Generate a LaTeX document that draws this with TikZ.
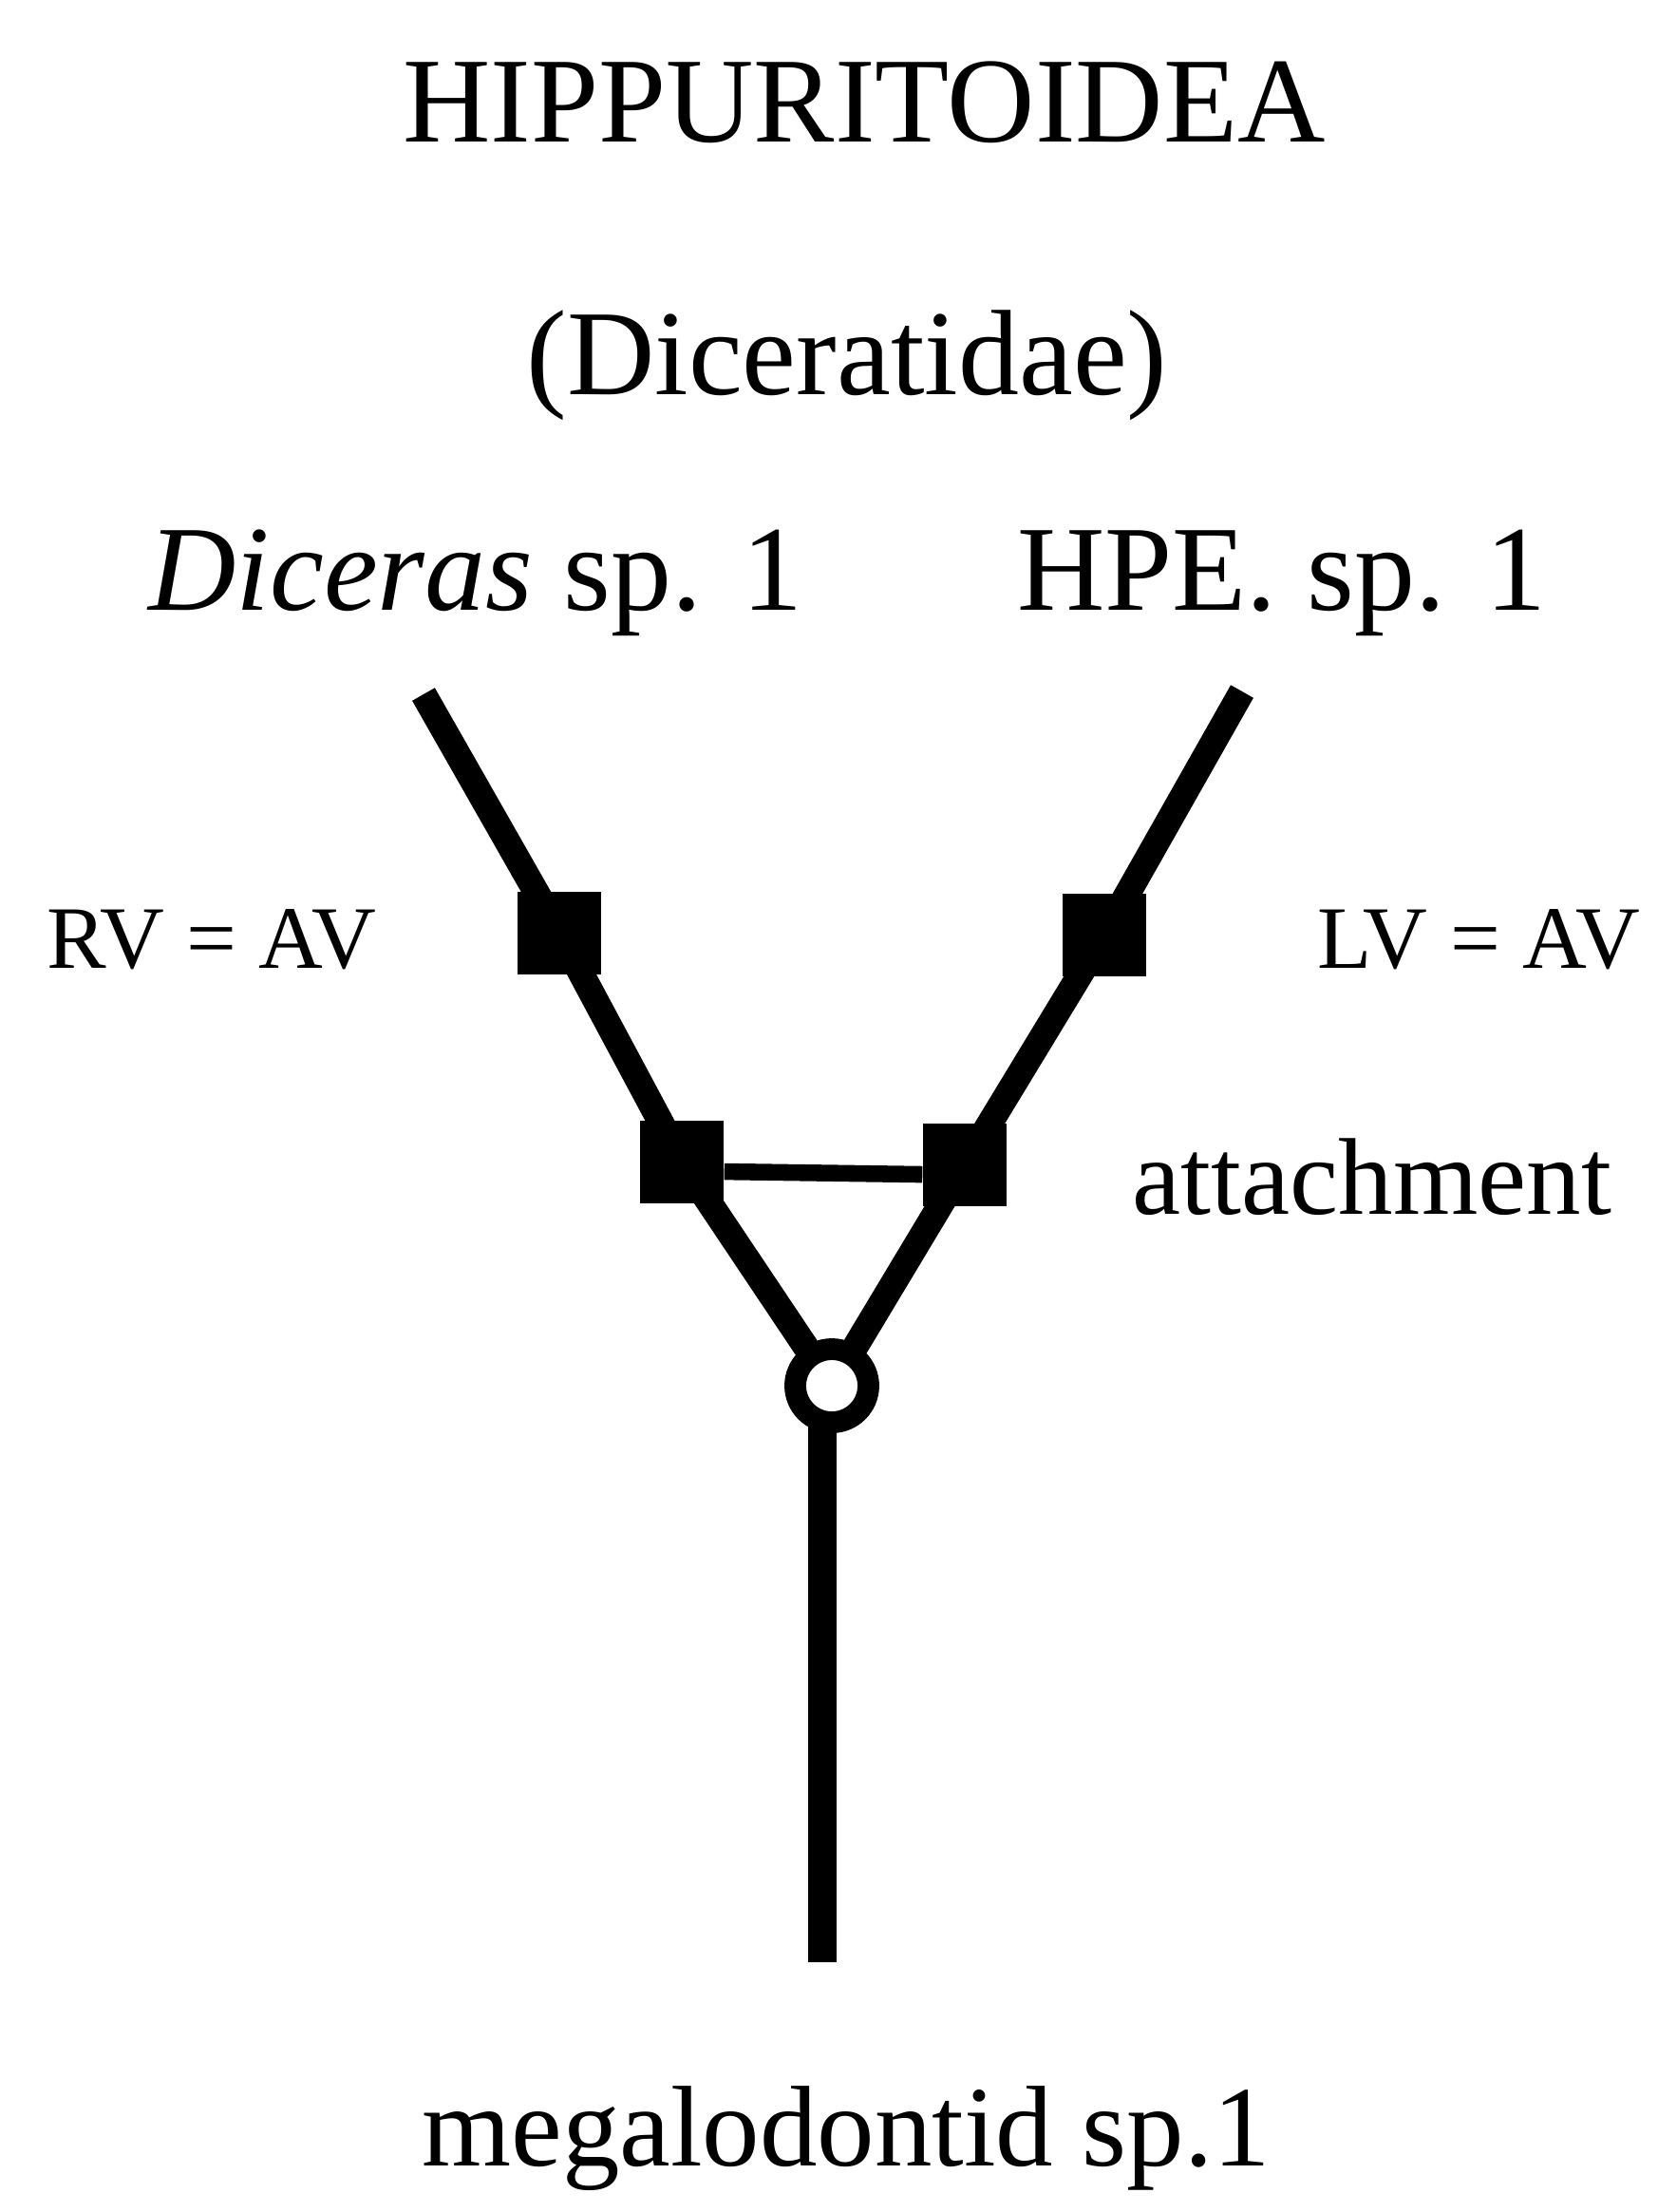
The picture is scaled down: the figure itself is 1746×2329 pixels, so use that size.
\documentclass[tikz,border=0pt]{standalone}
\usepackage{fontspec}
\setmainfont{Liberation Serif}
\usetikzlibrary{positioning}

\begin{document}
\begin{tikzpicture}[x=0.1mm,y=-0.1mm,
    branch/.style={line width=7.8pt},
    stem/.style={line width=8.5pt},
    bar/.style={line width=5pt},
    apo/.style={fill=black,inner sep=0pt,minimum width=8.8mm,minimum height=8.7mm},
    node0/.style={circle,draw,fill=white,line width=6.5pt,inner sep=0pt,minimum size=7.7mm},
    lbl/.style={anchor=base,inner sep=0pt}]
        \useasboundingbox (0,0) rectangle (1746,2329);

        \coordinate (DT) at (446,731);
        \coordinate (HT) at (1308,728);
        \coordinate (M) at (866,2066);

        \node[apo] (D1) at (589,982) {};
        \node[apo] (D2) at (718,1223) {};
        \node[apo] (H1) at (1163,984) {};
        \node[apo] (H2) at (1016,1226) {};
        \node[node0] (O) at (876,1459) {};

        \draw[branch] (DT) -- (D1.center) -- (D2.center);
        \draw[branch] (HT) -- (H1.center) -- (H2.center);
        \draw[branch,line cap=round] (D2.center) -- (O);
        \draw[branch,line cap=round] (H2.center) -- (O);
        \draw[bar] ([yshift=-3pt]D2.east) -- ([yshift=-3pt]H2.west);
        \draw[stem] ([yshift=4pt]O.south -| M) -- (M);

        %
        \node[lbl,font=\fontsize{36.4}{40}\selectfont] (title) at (910,149) {HIPPURITOIDEA};
        \node[lbl,font=\fontsize{36.4}{40}\selectfont] (fam) at (892,415) {(Diceratidae)};
        \node[lbl,font=\fontsize{36.4}{40}\selectfont] (dic) at (501,642) {\textit{Diceras} sp. 1};
        \node[lbl,font=\fontsize{36.4}{40}\selectfont] (hpe) at (1350,642) {HPE. sp. 1};
        \node[lbl,font=\fontsize{26.7}{30}\selectfont] (rv) at (223,1019) {RV = AV};
        \node[lbl,font=\fontsize{26.7}{30}\selectfont] (lv) at (1557,1019) {LV = AV};
        \node[lbl,font=\fontsize{32.7}{36}\selectfont] (att) at (1445,1278) {attachment};
        \node[lbl,font=\fontsize{34.4}{38}\selectfont] (meg) at (891,2280) {megalodontid sp.1};
    \end{tikzpicture}
\end{document}
